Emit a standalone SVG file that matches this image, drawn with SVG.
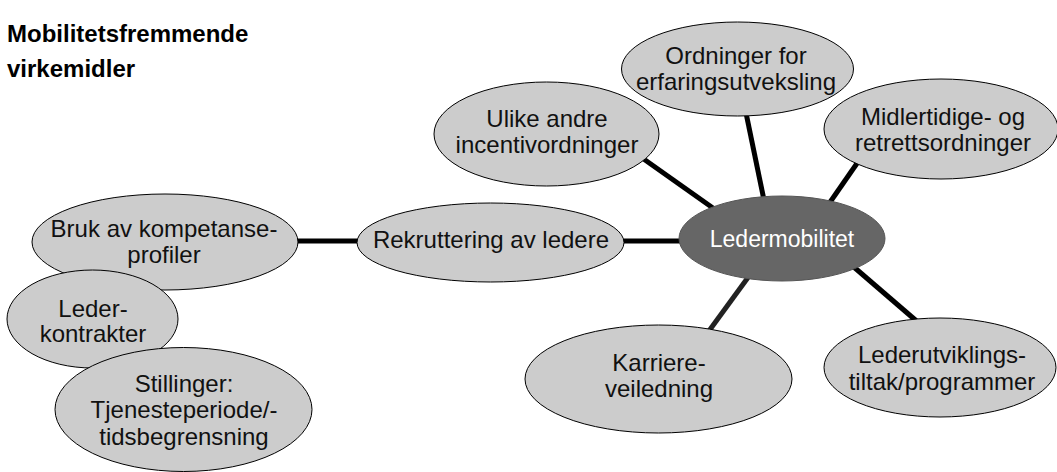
<svg xmlns="http://www.w3.org/2000/svg" width="1057" height="472" viewBox="0 0 1057 472">
<style>
.n{fill:#cccccc;stroke:#000;stroke-width:1}
.c{fill:#666666;stroke:#555;stroke-width:1}
.t{font-family:"Liberation Sans",Arial,Helvetica,sans-serif;font-size:24px;fill:#111;text-anchor:middle}
.tw{font-family:"Liberation Sans",Arial,Helvetica,sans-serif;font-size:23px;fill:#fff;text-anchor:middle}
.h{font-family:"Liberation Sans",Arial,Helvetica,sans-serif;font-size:24px;font-weight:bold;fill:#000}
#edges line{stroke:#000;stroke-width:5}
</style>
<rect width="1057" height="472" fill="#fff"/>
<g id="title">
<text class="h" x="7" y="42">Mobilitetsfremmende</text>
<text class="h" x="7" y="77">virkemidler</text>
</g>
<g id="edges">
<line x1="290" y1="241" x2="365" y2="241"/>
<line x1="615" y1="241" x2="690" y2="241"/>
<line x1="638" y1="155" x2="720" y2="213"/>
<line x1="745" y1="108" x2="765" y2="205"/>
<line x1="860" y1="159" x2="826" y2="208"/>
<line x1="848" y1="262" x2="920" y2="324"/>
<line x1="752" y1="272" x2="706" y2="335" style="stroke:#222"/>
</g>
<g id="n-bruk">
<ellipse class="n" cx="165" cy="242" rx="133" ry="48"/>
<text class="t" x="164" y="237">Bruk av kompetanse-</text>
<text class="t" x="164" y="263">profiler</text>
</g>
<g id="n-leder">
<ellipse class="n" cx="92.5" cy="319" rx="85.5" ry="49"/>
<text class="t" x="93" y="317">Leder-</text>
<text class="t" x="93" y="342">kontrakter</text>
</g>
<g id="n-stillinger">
<ellipse class="n" cx="183.5" cy="409.5" rx="128.5" ry="62"/>
<text class="t" x="184" y="392">Stillinger:</text>
<text class="t" x="184" y="418">Tjenesteperiode/-</text>
<text class="t" x="184" y="445">tidsbegrensning</text>
</g>
<g id="n-rekruttering">
<ellipse class="n" cx="490.5" cy="242.5" rx="133.5" ry="39.5"/>
<text class="t" x="491" y="248">Rekruttering av ledere</text>
</g>
<g id="n-ulike">
<ellipse class="n" cx="546.5" cy="134" rx="112.5" ry="52"/>
<text class="t" x="547" y="127">Ulike andre</text>
<text class="t" x="547" y="153">incentivordninger</text>
</g>
<g id="n-ordninger">
<ellipse class="n" cx="737.5" cy="69" rx="116" ry="47"/>
<text class="t" x="736" y="64">Ordninger for</text>
<text class="t" x="736" y="90">erfaringsutveksling</text>
</g>
<g id="n-midlertidige">
<ellipse class="n" cx="941" cy="129" rx="117" ry="50"/>
<text class="t" x="943" y="125">Midlertidige- og</text>
<text class="t" x="943" y="151">retrettsordninger</text>
</g>
<g id="n-ledermobilitet">
<ellipse class="c" cx="782" cy="238.5" rx="103" ry="42.5"/>
<text class="tw" x="782" y="247">Ledermobilitet</text>
</g>
<g id="n-karriere">
<ellipse class="n" cx="658.5" cy="379" rx="133.5" ry="54"/>
<text class="t" x="659" y="371">Karriere-</text>
<text class="t" x="659" y="397">veiledning</text>
</g>
<g id="n-lederutvikling">
<ellipse class="n" cx="940" cy="367.5" rx="116" ry="49.5"/>
<text class="t" x="942" y="363">Lederutviklings-</text>
<text class="t" x="942" y="390">tiltak/programmer</text>
</g>
</svg>
